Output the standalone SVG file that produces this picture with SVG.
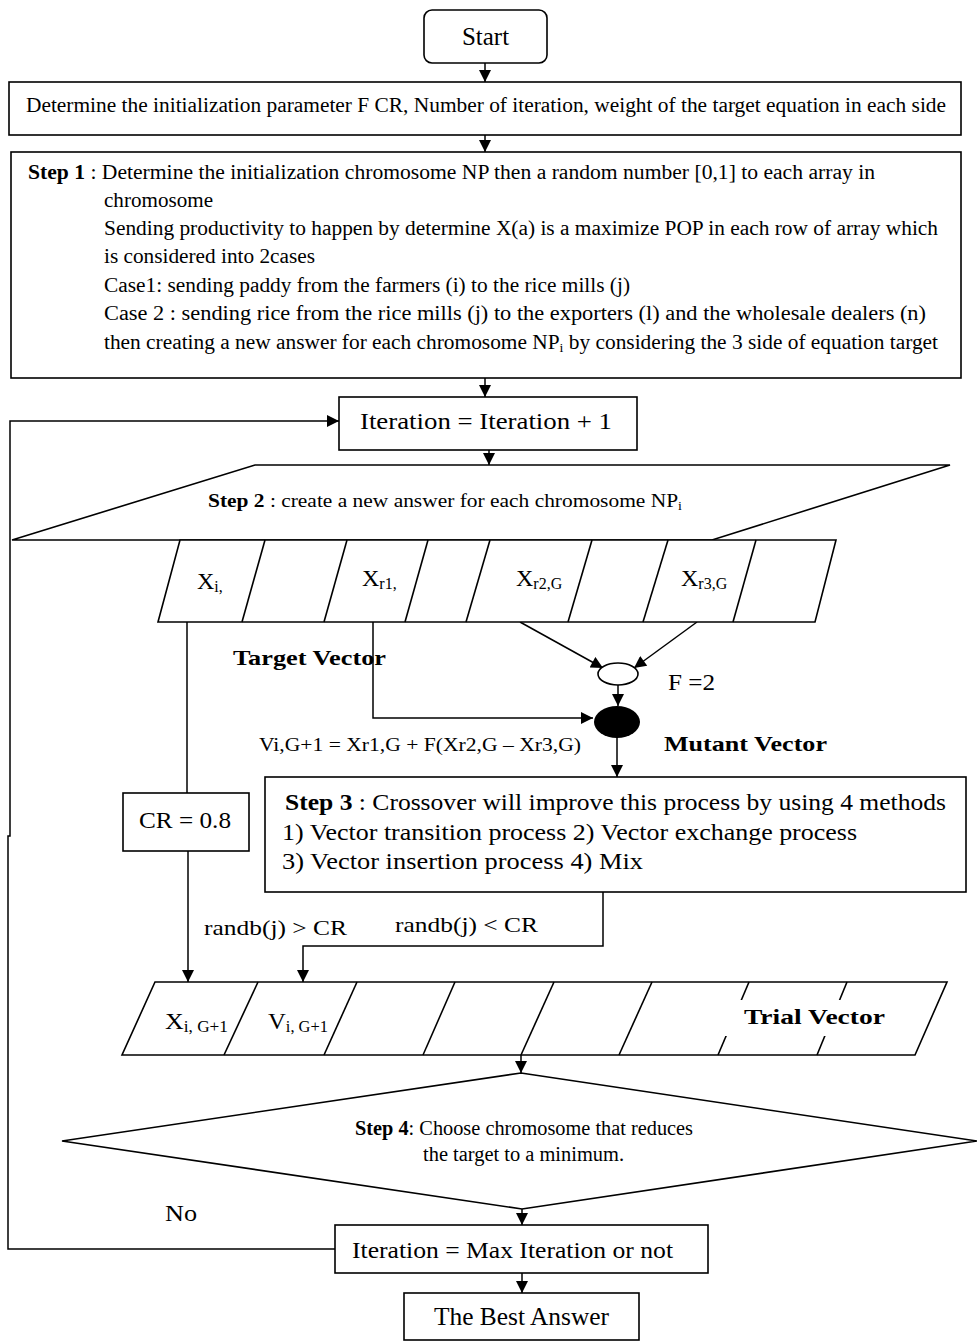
<svg xmlns="http://www.w3.org/2000/svg" width="977" height="1341" viewBox="0 0 977 1341">
<defs>
<marker id="ah" viewBox="0 0 10 10" refX="10" refY="5" markerWidth="13" markerHeight="12" markerUnits="userSpaceOnUse" orient="auto"><path d="M0,0 L10,5 L0,10 z" fill="#000"/></marker>
<style>
.t{font-family:"Liberation Serif","Times New Roman",serif;fill:#000}
.b{font-weight:bold}
.s{fill:#fff;stroke:#000;stroke-width:1.6}
.c{fill:none;stroke:#000;stroke-width:1.5}
.a{fill:none;stroke:#000;stroke-width:1.5;marker-end:url(#ah)}
.d{stroke:#000;stroke-width:1.6}
</style>
</defs>
<rect width="977" height="1341" fill="#fff"/>

<g id="connectors">
<line class="a" x1="485" y1="63" x2="485" y2="82"/>
<line class="a" x1="485" y1="135" x2="485" y2="152"/>
<line class="a" x1="485" y1="378" x2="485" y2="397"/>
<line class="a" x1="489" y1="450" x2="489" y2="465"/>
<polyline class="a" points="335,1249 8,1249 8,836 10,836 10,421 339,421"/>
<line class="c" x1="187" y1="622" x2="187" y2="793"/>
<polyline class="a" points="373,622 373,718 593,718"/>
<line class="a" x1="520" y1="622" x2="603" y2="668"/>
<line class="a" x1="697" y1="622" x2="634" y2="668"/>
<line class="a" x1="618" y1="685" x2="618" y2="706"/>
<line class="a" x1="617" y1="738" x2="617" y2="777"/>
<line class="a" x1="188" y1="851" x2="188" y2="982"/>
<polyline class="a" points="603,892 603,946 303,946 303,982"/>
<line class="a" x1="521" y1="1055" x2="521" y2="1073"/>
<line class="a" x1="522" y1="1209" x2="522" y2="1225"/>
<line class="a" x1="522" y1="1273" x2="522" y2="1293"/>
</g>

<g id="start">
<rect class="s" x="424" y="10" width="123" height="53" rx="8"/>
<text class="t" x="485.5" y="45" font-size="25" text-anchor="middle">Start</text>
</g>

<g id="init">
<rect class="s" x="9" y="82" width="952" height="53"/>
<text class="t" x="26" y="112" font-size="20" textLength="920" lengthAdjust="spacingAndGlyphs">Determine the initialization parameter F CR, Number of iteration, weight of the target equation in each side</text>
</g>

<g id="step1">
<rect class="s" x="11" y="152" width="950" height="226"/>
<text class="t" x="28" y="179" font-size="20" textLength="847" lengthAdjust="spacingAndGlyphs"><tspan class="b">Step 1</tspan> : Determine the initialization chromosome NP then a random number [0,1] to each array  in</text>
<text class="t" x="104" y="207" font-size="20" textLength="109" lengthAdjust="spacingAndGlyphs">chromosome</text>
<text class="t" x="104" y="235" font-size="20" textLength="834" lengthAdjust="spacingAndGlyphs">Sending productivity to happen by determine X(a) is a maximize POP in each row of array which</text>
<text class="t" x="104" y="263" font-size="20" textLength="211" lengthAdjust="spacingAndGlyphs">is considered into 2cases</text>
<text class="t" x="104" y="292" font-size="20" textLength="526" lengthAdjust="spacingAndGlyphs">Case1: sending paddy from the farmers (i) to the rice mills (j)</text>
<text class="t" x="104" y="320" font-size="20" textLength="822" lengthAdjust="spacingAndGlyphs">Case 2 : sending rice from the rice mills (j) to the exporters (l) and the wholesale dealers (n)</text>
<text class="t" x="104" y="349" font-size="20" textLength="834" lengthAdjust="spacingAndGlyphs">then creating a new answer for each chromosome NP<tspan font-size="13" dy="3">i</tspan><tspan dy="-3"> by considering the 3 side of equation target</tspan></text>
</g>

<g id="iteration">
<rect class="s" x="339" y="397" width="298" height="53"/>
<text class="t" x="360" y="429" font-size="24" textLength="252" lengthAdjust="spacingAndGlyphs">Iteration  =  Iteration + 1</text>
</g>

<g id="step2">
<polygon class="s" points="255,465 950,465 712,540 12,540"/>
<text class="t" x="208" y="507" font-size="18.5" textLength="474" lengthAdjust="spacingAndGlyphs"><tspan class="b">Step 2</tspan> : create a new answer for each chromosome NP<tspan font-size="12" dy="3">i</tspan></text>
</g>

<g id="target-vector">
<polygon class="s" points="180,540 836,540 815,622 158,622"/>
<line class="d" x1="265" y1="540" x2="242" y2="622"/>
<line class="d" x1="347" y1="540" x2="324" y2="622"/>
<line class="d" x1="428" y1="540" x2="405" y2="622"/>
<line class="d" x1="490" y1="540" x2="466" y2="622"/>
<line class="d" x1="592" y1="540" x2="568" y2="622"/>
<line class="d" x1="668" y1="540" x2="643" y2="622"/>
<line class="d" x1="756" y1="540" x2="733" y2="622"/>
<text class="t" x="197" y="589" font-size="24">X<tspan font-size="16" dy="3">i,</tspan></text>
<text class="t" x="362" y="586" font-size="24">X<tspan font-size="16" dy="3">r1,</tspan></text>
<text class="t" x="516" y="586" font-size="24">X<tspan font-size="16" dy="3">r2,G</tspan></text>
<text class="t" x="681" y="586" font-size="24">X<tspan font-size="16" dy="3">r3,G</tspan></text>
<text class="t b" x="233" y="665" font-size="22" textLength="153" lengthAdjust="spacingAndGlyphs">Target Vector</text>
</g>

<g id="difference">
<ellipse class="s" cx="618" cy="674" rx="20" ry="11"/>
<text class="t" x="668" y="690" font-size="24" textLength="47" lengthAdjust="spacingAndGlyphs">F =2</text>
</g>

<g id="mutant">
<ellipse cx="617" cy="722" rx="23" ry="16" fill="#000"/>
<text class="t" x="259" y="751" font-size="18.5" textLength="322" lengthAdjust="spacingAndGlyphs">Vi,G+1 = Xr1,G + F(Xr2,G – Xr3,G)</text>
<text class="t b" x="664" y="751" font-size="22" textLength="163" lengthAdjust="spacingAndGlyphs">Mutant Vector</text>
</g>

<g id="cr">
<rect class="s" x="123" y="793" width="126" height="58"/>
<text class="t" x="139" y="828" font-size="24" textLength="92" lengthAdjust="spacingAndGlyphs">CR = 0.8</text>
</g>

<g id="step3">
<rect class="s" x="265" y="777" width="701" height="115"/>
<text class="t" x="285" y="810" font-size="23" textLength="661" lengthAdjust="spacingAndGlyphs"><tspan class="b">Step 3</tspan> : Crossover will improve this process by using 4 methods</text>
<text class="t" x="282" y="840" font-size="23" textLength="575" lengthAdjust="spacingAndGlyphs">1) Vector transition process 2) Vector exchange process</text>
<text class="t" x="282" y="869" font-size="23" textLength="361" lengthAdjust="spacingAndGlyphs">3) Vector insertion process  4) Mix</text>
</g>

<g id="crossover-labels">
<text class="t" x="204" y="935" font-size="22" textLength="143" lengthAdjust="spacingAndGlyphs">randb(j) &gt; CR</text>
<text class="t" x="395" y="932" font-size="22" textLength="143" lengthAdjust="spacingAndGlyphs">randb(j) &lt; CR</text>
</g>

<g id="trial-vector">
<polygon class="s" points="155,982 947,982 915,1055 122,1055"/>
<line class="d" x1="258" y1="982" x2="224" y2="1055"/>
<line class="d" x1="357" y1="982" x2="324" y2="1055"/>
<line class="d" x1="455" y1="982" x2="423" y2="1055"/>
<line class="d" x1="554" y1="982" x2="521" y2="1055"/>
<line class="d" x1="652" y1="982" x2="619" y2="1055"/>
<line class="d" x1="749" y1="982" x2="718" y2="1055"/>
<line class="d" x1="847" y1="982" x2="817" y2="1055"/>
<rect x="724" y="1000" width="168" height="36" fill="#fff"/>
<text class="t" x="165" y="1029" font-size="24" textLength="63" lengthAdjust="spacingAndGlyphs">X<tspan font-size="16" dy="3">i, G+1</tspan></text>
<text class="t" x="268" y="1029" font-size="24" textLength="60" lengthAdjust="spacingAndGlyphs">V<tspan font-size="16" dy="3">i, G+1</tspan></text>
<text class="t b" x="744" y="1024" font-size="22" textLength="141" lengthAdjust="spacingAndGlyphs">Trial  Vector</text>
</g>

<g id="step4">
<polygon class="s" points="521,1073 977,1141 522,1209 62,1141"/>
<text class="t" x="355" y="1135" font-size="20" textLength="338" lengthAdjust="spacingAndGlyphs"><tspan class="b">Step 4</tspan>: Choose chromosome that reduces</text>
<text class="t" x="423" y="1161" font-size="20" textLength="201" lengthAdjust="spacingAndGlyphs">the target to a minimum.</text>
</g>

<g id="no-label">
<text class="t" x="165" y="1221" font-size="24" textLength="32" lengthAdjust="spacingAndGlyphs">No</text>
</g>

<g id="max-check">
<rect class="s" x="335" y="1225" width="373" height="48"/>
<text class="t" x="352" y="1258" font-size="24" textLength="321" lengthAdjust="spacingAndGlyphs">Iteration = Max Iteration or not</text>
</g>

<g id="best">
<rect class="s" x="404" y="1293" width="235" height="47"/>
<text class="t" x="434" y="1325" font-size="25" textLength="175" lengthAdjust="spacingAndGlyphs">The Best Answer</text>
</g>
</svg>
